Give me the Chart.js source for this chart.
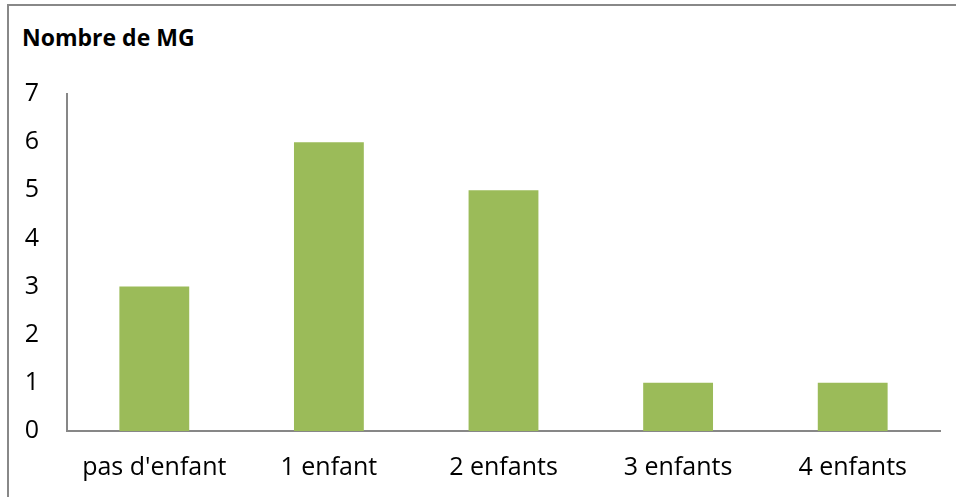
<!DOCTYPE html>
<html>
<head>
<meta charset="utf-8">
<script src="https://cdn.jsdelivr.net/npm/chart.js@4"></script>
<style>
  html, body { margin: 0; padding: 0; background: #fff; }
  #wrap { position: relative; width: 956px; height: 497px; }
  #frame { position: absolute; left: 7px; top: 4px; right: -2px; bottom: -2px;
           border-top: 2px solid #888; border-left: 2px solid #888; }
  #title { position: absolute; left: 22px; top: 23px; font: bold 23px/1.3 "Open Sans", sans-serif; color: #000; }
  canvas { position: absolute; left: 0; top: 0; }
</style>
</head>
<body>
<div id="wrap">
  <div id="frame"></div>
  <div id="title">Nombre de MG</div>
  <canvas id="c" width="956" height="497"></canvas>
</div>
<script>
'use strict';

/* data */
const categories = ["pas d'enfant", '1 enfant', '2 enfants', '3 enfants', '4 enfants'];
const counts     = [3, 6, 5, 1, 1];
const yTicks     = [0, 1, 2, 3, 4, 5, 6, 7];

const C_BAR  = '#9BBB59';
const C_AXIS = '#878787';
const FONT   = '"Open Sans", sans-serif';

new Chart(document.getElementById('c'), {
  type: 'bar',
  data: {
    labels: categories,
    datasets: [{
      data: counts,
      backgroundColor: C_BAR,
      borderWidth: 0,
      categoryPercentage: 1,
      barPercentage: 0.4,
    }],
  },
  options: {
    responsive: false,
    animation: false,
    layout: { padding: { top: 94, right: 16, left: 0, bottom: 0 } },
    plugins: { legend: { display: false }, tooltip: { enabled: false } },
    scales: {
      x: {
        grid: { display: false, drawTicks: false },
        border: { color: C_AXIS, width: 2 },
        ticks: { color: '#000', font: { family: FONT, size: 25 }, padding: 22, maxRotation: 0 },
        afterFit: s => { s.height = 66; },
      },
      y: {
        min: 0, max: 7,
        grid: { display: false, drawTicks: false },
        border: { color: C_AXIS, width: 2 },
        afterBuildTicks: s => { s.ticks = yTicks.map(v => ({ value: v })); },
        ticks: { color: '#000', font: { family: FONT, size: 25 }, padding: 28 },
        afterFit: s => { s.width = 67; },
      },
    },
  },
});
</script>
</body>
</html>
